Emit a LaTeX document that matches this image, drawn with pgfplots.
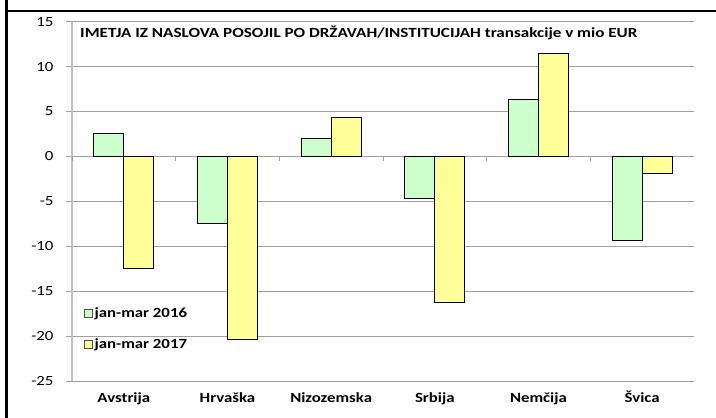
\documentclass[border=0pt]{standalone}
\usepackage{pgfplots}
\pgfplotsset{compat=1.18}
\usepackage{fontspec}
\setmainfont[FakeStretch=1.2]{Carlito}
\newfontfamily\titlefont[FakeStretch=1.22]{Carlito}
\definecolor{grn}{HTML}{CCFFCC}
\definecolor{ylw}{HTML}{FFFF99}
\definecolor{gridc}{HTML}{A0A0A0}
\definecolor{axc}{HTML}{C0C0C0}
\begin{document}
\begin{tikzpicture}[x=1pt,y=1pt]
\useasboundingbox (0,0) rectangle (716,418);
\draw[line width=2.5pt] (6.5,0) -- (6.5,418);
\draw[line width=2.3pt] (5.25,407) -- (716,407);
\begin{axis}[
 at={(72pt,37pt)}, anchor=south west,
 scale only axis, width=622pt, height=359.3pt,
 ybar=0pt, bar width=30pt,
 xmin=-0.5, xmax=5.5, ymin=-25, ymax=15,
 ytick={-25,-20,...,15},
 xtick={0,...,5},
 xticklabels={Avstrija,Hrvaška,Nizozemska,Srbija,Nemčija,Švica},
 x tick label style={font=\fontsize{14}{16}\selectfont\bfseries, text height=10pt, text depth=3pt, yshift=-1.5pt},
 y tick label style={font=\fontsize{14}{16}\selectfont, xshift=-9pt},
 /pgf/number format/assume math mode=true,
 ymajorgrids, grid style={gridc, line width=0.8pt},
 axis y line*=left, axis x line*=bottom,
 y axis line style={axc, line width=1.6pt, -},
 x axis line style={gridc, line width=0.8pt, -},
 xtick style={draw=none},
 ytick style={gridc, line width=0.8pt},
 tick align=outside, major tick length=6pt,
 legend style={at={(0.014,0.215)}, anchor=north west, draw=none, fill=none,
   font=\fontsize{14}{16}\selectfont\bfseries, row sep=15pt},
 legend cell align=left,
 legend image code/.code={\draw[#1, draw=black!70, line width=0.6pt] (0pt,-4pt) rectangle (8pt,4pt);},
]
\addplot[fill=grn, draw=black, line width=0.8pt] coordinates {(0,2.6) (1,-7.5) (2,2.0) (3,-4.7) (4,6.3) (5,-9.3)};
\addplot[fill=ylw, draw=black, line width=0.8pt] coordinates {(0,-12.5) (1,-20.4) (2,4.4) (3,-16.2) (4,11.5) (5,-1.9)};
\legend{jan-mar 2016, jan-mar 2017}
\pgfplotsinvokeforeach{-0.5,0.5,1.5,2.5,3.5,4.5,5.5}{\draw[gridc, line width=0.8pt] (axis cs:#1,0) -- ++(0pt,-5pt);}
\end{axis}
\node[anchor=west, font=\fontsize{14}{16}\titlefont\bfseries, inner sep=0pt] at (80,385) {IMETJA IZ NASLOVA POSOJIL PO DRŽAVAH/INSTITUCIJAH transakcije v mio EUR};
\end{tikzpicture}
\end{document}
